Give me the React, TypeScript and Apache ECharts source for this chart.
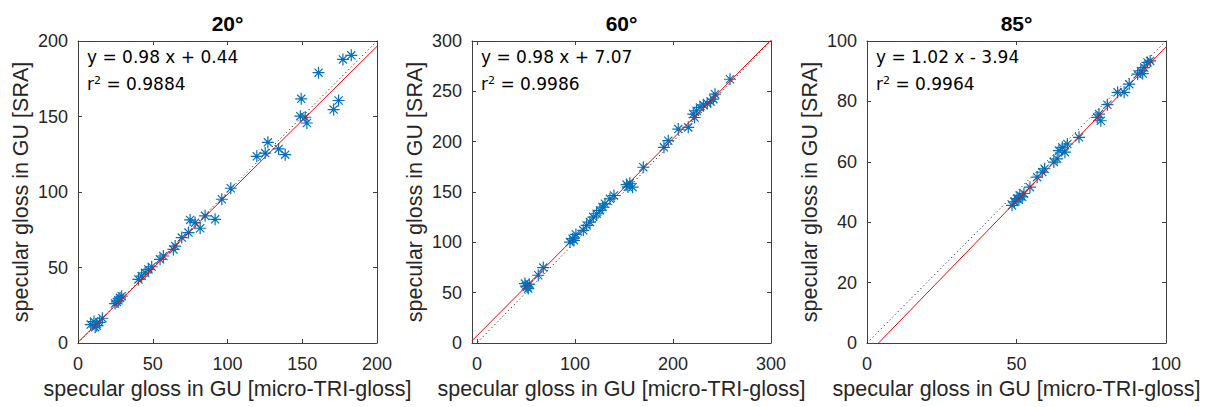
import React, { useEffect, useRef } from 'react';
import * as echarts from 'echarts';

// ---- data ----
const titles = ['20°', '60°', '85°'];

const x20 = [8.5, 10.7, 12.5, 14.3, 16.3, 11.5, 24.8, 27, 28.1, 29.2, 26, 40.4, 42.6, 44.9, 47.1, 49.3, 54.9, 57.1, 63.8, 65, 69.4, 73.9, 75, 78.3, 81.7, 85, 91.7, 96.2, 102.2, 119.6, 125.2, 127, 134.2, 138.6, 149.3, 148.7, 152, 153.1, 160.9, 171, 174.3, 177.2, 182.8];
const y20 = [12.2, 14.2, 11.5, 13.7, 16.4, 10.5, 26.1, 28.3, 29.9, 31, 27.2, 42.1, 44.3, 46.5, 48.7, 50.5, 55.4, 57.6, 62, 64.2, 69.8, 73.1, 81.5, 79.7, 76, 84.2, 81.9, 95.2, 102.5, 123.6, 125.8, 132.9, 128.5, 124.7, 161.7, 150.2, 149.5, 145.7, 179, 154.6, 160.6, 187.8, 190.5];

const x60 = [49, 51.4, 53.4, 52.4, 50, 62.6, 67.7, 94.9, 97.6, 101, 99, 108.5, 111.9, 115.3, 118.7, 122.1, 125.5, 128.2, 130.6, 135.7, 139.8, 152.7, 156, 158.8, 154, 169.7, 190.8, 195.2, 205.4, 215.6, 220.7, 224.1, 227.6, 231, 235, 238.4, 241.2, 242.9, 222, 258.2];
const y60 = [59, 55.8, 58.4, 54.1, 56.4, 67.3, 74.9, 100.3, 103.6, 107.9, 102, 111.9, 116.8, 120.1, 125.1, 128.4, 131.7, 135, 138.3, 143.2, 146.5, 157.4, 158.7, 154.8, 155, 174.6, 194.4, 201, 212.5, 214.2, 227.4, 230.7, 234, 236.6, 238, 239.9, 242.2, 247.2, 224, 262];

const x85 = [48.5, 49.3, 50.2, 51.1, 51.9, 50.8, 52.5, 54.5, 56.9, 58.6, 59.4, 62.5, 63.6, 64.2, 65.3, 67, 66.2, 70.9, 77, 78.2, 77.6, 80.4, 83.8, 86, 87.7, 90.5, 91.6, 92.7, 93.8, 94.7, 92.2];
const y85 = [45.6, 46.7, 47.8, 48.9, 48.4, 47.4, 49.5, 51.6, 54.9, 56.6, 57.7, 59.9, 61, 63.7, 64.8, 65.9, 63.2, 68.1, 74.7, 73.6, 75.8, 78.9, 83, 83, 85.7, 89, 90.1, 91.2, 92.9, 93.4, 89.2];

const slopes = [0.98, 0.98, 1.02];
const intercepts = [0.44, 7.07, -3.94];
const r2Labels = ['0.9884', '0.9986', '0.9964'];

const xRanges = [[0, 200], [-5, 300], [0, 100]];
const yRanges = [[0, 200], [0, 300], [0, 100]];
const xTicks = [[0, 50, 100, 150, 200], [0, 100, 200, 300], [0, 50, 100]];
const yTicks = [[0, 50, 100, 150, 200], [0, 50, 100, 150, 200, 250, 300], [0, 20, 40, 60, 80, 100]];

const xLabel = 'specular gloss in GU [micro-TRI-gloss]';
const yLabel = 'specular gloss in GU [SRA]';

// ---- layout / style ----
const gridLefts = [78, 472, 867];
const gridTop = 41;
const gridW = 299;
const gridH = 302;
const axisColor = '#262626';
const frameColor = '#404040';
const blue = '#0072BD';
const asterisk = 'path://M0,5L10,5M5,0L5,10M1.6,1.6L8.4,8.4M1.6,8.4L8.4,1.6';

export default function App() {
  const ref = useRef<HTMLDivElement>(null);
  useEffect(() => {
    document.body.style.margin = '0';
    if (!ref.current) return;
    const chart = echarts.init(ref.current, undefined, { renderer: 'svg' });
    const xs = [x20, x60, x85];
    const ys = [y20, y60, y85];

    const grid: any[] = [];
    const xAxis: any[] = [];
    const yAxis: any[] = [];
    const series: any[] = [];
    const graphic: any[] = [];

    for (let i = 0; i < 3; i++) {
      grid.push({ left: gridLefts[i], top: gridTop, width: gridW, height: gridH, containLabel: false });
      const lineStyle = { color: frameColor, width: 1 };
      const tickBase = { show: true, inside: true, length: 4, lineStyle: { color: frameColor, width: 1 } };
      xAxis.push({
        type: 'value', gridIndex: i, position: 'bottom', min: xRanges[i][0], max: xRanges[i][1],
        axisLine: { show: true, onZero: false, lineStyle },
        axisTick: { ...tickBase, customValues: xTicks[i] },
        axisLabel: { show: true, customValues: xTicks[i], margin: 12, color: axisColor, fontSize: 18, fontFamily: 'Liberation Sans' },
        splitLine: { show: false },
        name: xLabel, nameLocation: 'middle', nameGap: 32,
        nameTextStyle: { color: axisColor, fontSize: 21.5, fontFamily: 'Liberation Sans' },
      });
      xAxis.push({
        type: 'value', gridIndex: i, position: 'top', min: xRanges[i][0], max: xRanges[i][1],
        axisLine: { show: true, onZero: false, lineStyle },
        axisTick: { ...tickBase, customValues: xTicks[i] },
        axisLabel: { show: false }, splitLine: { show: false },
      });
      yAxis.push({
        type: 'value', gridIndex: i, position: 'left', min: yRanges[i][0], max: yRanges[i][1],
        axisLine: { show: true, onZero: false, lineStyle },
        axisTick: { ...tickBase, customValues: yTicks[i] },
        axisLabel: { show: true, customValues: yTicks[i], margin: 10, color: axisColor, fontSize: 18, fontFamily: 'Liberation Sans' },
        splitLine: { show: false },
        name: yLabel, nameLocation: 'middle', nameGap: 46, nameRotate: 90,
        nameTextStyle: { color: axisColor, fontSize: 21.5, fontFamily: 'Liberation Sans' },
      });
      yAxis.push({
        type: 'value', gridIndex: i, position: 'right', min: yRanges[i][0], max: yRanges[i][1],
        axisLine: { show: true, onZero: false, lineStyle },
        axisTick: { ...tickBase, customValues: yTicks[i] },
        axisLabel: { show: false }, splitLine: { show: false },
      });

      const xi = i * 2;
      const yi = i * 2;
      const [x0, x1] = xRanges[i];
      series.push({
        type: 'line', xAxisIndex: xi, yAxisIndex: yi, clip: true, symbol: 'none', silent: true,
        data: [[x0, x0], [x1, x1]],
        lineStyle: { color: '#000000', width: 1, type: [1, 3] }, z: 2,
      });
      series.push({
        type: 'scatter', xAxisIndex: xi, yAxisIndex: yi, symbol: asterisk, symbolSize: 12, clip: false, silent: true,
        data: xs[i].map((v, k) => [v, ys[i][k]]),
        itemStyle: { color: 'none', borderColor: blue, borderWidth: 1.2, opacity: 1 }, z: 3,
      });
      series.push({
        type: 'line', xAxisIndex: xi, yAxisIndex: yi, clip: true, symbol: 'none', silent: true,
        data: [[x0, slopes[i] * x0 + intercepts[i]], [x1, slopes[i] * x1 + intercepts[i]]],
        lineStyle: { color: '#FF0000', width: 1 }, z: 4,
      });

      const cx = gridLefts[i] + gridW / 2;
      graphic.push({
        type: 'text', x: cx, y: 23,
        style: { text: titles[i], fill: '#000', font: 'bold 21px "Liberation Sans"', align: 'center', verticalAlign: 'middle' },
      });
      const sign = intercepts[i] >= 0 ? '+' : '-';
      graphic.push({
        type: 'text', x: gridLefts[i] + 9, y: 57,
        style: { text: `y = ${slopes[i].toFixed(2)} x ${sign} ${Math.abs(intercepts[i]).toFixed(2)}`, fill: '#000', font: '17px "DejaVu Sans"', align: 'left', verticalAlign: 'middle' },
      });
      graphic.push({
        type: 'text', x: gridLefts[i] + 9, y: 84,
        style: {
          text: `{a|r}{s|2}{a| = ${r2Labels[i]}}`, fill: '#000', align: 'left', verticalAlign: 'middle',
          rich: {
            a: { fontSize: 17, fontFamily: 'DejaVu Sans', fill: '#000' },
            s: { fontSize: 11, fontFamily: 'DejaVu Sans', fill: '#000', verticalAlign: 'top', padding: [0, 0, 8, 0] },
          },
        },
      });
    }

    chart.setOption({
      animation: false,
      backgroundColor: '#ffffff',
      grid, xAxis, yAxis, series, graphic,
      tooltip: { show: false },
    });
    return () => chart.dispose();
  }, []);
  return <div ref={ref} style={{ width: 1220, height: 407 }} />;
}
